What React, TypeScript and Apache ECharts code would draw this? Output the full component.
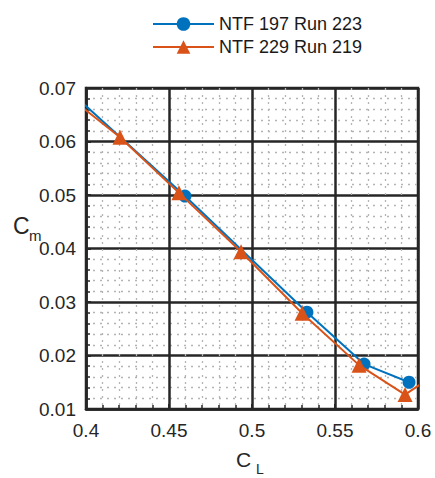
import React, { useEffect, useRef } from "react";
import * as echarts from "echarts";

// Pitching moment vs. lift coefficient for two tunnel runs
const seriesNames = ["NTF 197 Run 223", "NTF 229 Run 219"];
const run223CL = [0.38, 0.4596, 0.5331, 0.5675, 0.5946];
const run223Cm = [0.0723, 0.0498, 0.0281, 0.0184, 0.015];
const run219CL = [0.39, 0.4205, 0.456, 0.4934, 0.5302, 0.5645, 0.5922, 0.61];
const run219Cm = [0.0683, 0.0608, 0.0504, 0.0394, 0.0279, 0.0182, 0.0127, 0.0164];
const xTickLabels = ["0.4", "0.45", "0.5", "0.55", "0.6"];
const yTickLabels = ["0.01", "0.02", "0.03", "0.04", "0.05", "0.06", "0.07"];

const FONT = "'Liberation Sans', Arial, Helvetica, sans-serif";
const BLUE = "#0072BD";
const ORANGE = "#D95319";

const zip = (xs: number[], ys: number[]) => xs.map((x, i) => [x, ys[i]]);

export default function App() {
  const ref = useRef<HTMLDivElement>(null);

  useEffect(() => {
    if (!ref.current) return;
    const chart = echarts.init(ref.current, undefined, { renderer: "svg" });
    const xMin = Number(xTickLabels[0]);
    const xMax = Number(xTickLabels[xTickLabels.length - 1]);
    const yMin = Number(yTickLabels[0]);
    const yMax = Number(yTickLabels[yTickLabels.length - 1]);

    const baseAxis = {
      type: "value",
      axisLine: { show: true, onZero: false, lineStyle: { color: "#262626", width: 2.5 } },
      axisTick: { show: true, inside: true, length: 5, lineStyle: { color: "#262626", width: 2 } },
      minorTick: { show: true, splitNumber: 5, length: 4, lineStyle: { color: "#262626", width: 1.5 } },
      splitLine: { show: true, lineStyle: { color: "#262626", width: 2.5 } },
      minorSplitLine: {
        show: true,
        lineStyle: { color: "#b4b4b4", width: 1.3, type: [2, 5] },
      },
      axisLabel: { color: "#262626", fontSize: 19, fontFamily: FONT },
    };

    chart.setOption({
      animation: false,
      backgroundColor: "#ffffff",
      grid: {
        left: 86,
        top: 88,
        right: 17,
        bottom: 69,
        show: true,
        backgroundColor: "#ffffff",
        borderColor: "#262626",
        borderWidth: 2.5,
      },
      legend: {
        orient: "vertical",
        left: 147,
        top: 10,
        itemWidth: 61,
        itemHeight: 17,
        itemGap: 5,
        textStyle: { color: "#1a1a1a", fontSize: 18, fontFamily: FONT },
        data: seriesNames,
      },
      xAxis: {
        ...baseAxis,
        min: xMin,
        max: xMax,
        interval: 0.05,
        axisLabel: {
          ...baseAxis.axisLabel,
          margin: 12,
          formatter: (v: number) => xTickLabels.find((t) => Math.abs(Number(t) - v) < 1e-9) ?? "",
        },
      },
      yAxis: {
        ...baseAxis,
        min: yMin,
        max: yMax,
        interval: 0.01,
        axisLabel: {
          ...baseAxis.axisLabel,
          margin: 10,
          formatter: (v: number) => yTickLabels.find((t) => Math.abs(Number(t) - v) < 1e-9) ?? "",
        },
      },
      graphic: [
        { type: "text", left: 13, top: 214, style: { text: "C", fontSize: 23, fontFamily: FONT, fill: "#262626" } },
        { type: "text", left: 29, top: 228, style: { text: "m", fontSize: 15, fontFamily: FONT, fill: "#262626" } },
        { type: "text", left: 236, top: 449, style: { text: "C", fontSize: 21, fontFamily: FONT, fill: "#262626" } },
        { type: "text", left: 256, top: 462, style: { text: "L", fontSize: 14, fontFamily: FONT, fill: "#262626" } },
      ],
      series: [
        {
          name: seriesNames[0],
          type: "line",
          data: zip(run223CL, run223Cm),
          clip: true,
          symbol: "circle",
          symbolSize: 13,
          itemStyle: { color: BLUE },
          lineStyle: { color: BLUE, width: 2 },
          z: 3,
        },
        {
          name: seriesNames[1],
          type: "line",
          data: zip(run219CL, run219Cm),
          clip: true,
          symbol: "triangle",
          symbolSize: 15,
          itemStyle: { color: ORANGE },
          lineStyle: { color: ORANGE, width: 2 },
          z: 4,
        },
      ],
    });
    return () => chart.dispose();
  }, []);

  return <div ref={ref} style={{ width: 435, height: 478, position: "absolute", left: 0, top: 0 }} />;
}
